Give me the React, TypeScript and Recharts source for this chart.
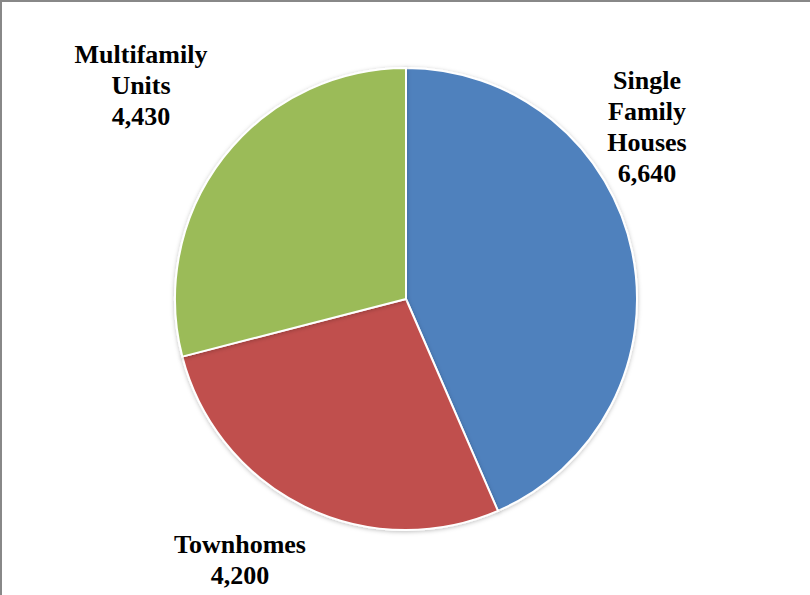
import { PieChart, Pie, Cell } from 'recharts';

const CATEGORIES = ['Single Family Houses', 'Townhomes', 'Multifamily Units'];
const VALUES = [6640, 4200, 4430];
const LABEL_LINES = [['Single', 'Family', 'Houses'], ['Townhomes'], ['Multifamily', 'Units']];
const COLORS = ['#4F81BD', '#C0504D', '#9BBB59'];

// Label anchor (centre x, first baseline y) in chart coords, as Excel's "best fit" placed them
const LABEL_POS = [
    { x: 647, y: 89 },
    { x: 240, y: 553 },
    { x: 141, y: 63 },
];
const LINE_H = 31;

const data = CATEGORIES.map((name, i) => ({ name, value: VALUES[i] }));
const fmt = (n: number) => n.toLocaleString('en-US');

function renderLabel(props: any) {
    const i = props.index as number;
    const pos = LABEL_POS[i];
    const lines = [...LABEL_LINES[i], fmt(VALUES[i])];
    return (
        <text x={pos.x} y={pos.y} textAnchor="middle" fill="#000" fontFamily="'Liberation Serif', 'Times New Roman', serif" fontWeight="bold" fontSize={26}>
            {lines.map((l, k) => (
                <tspan key={k} x={pos.x} dy={k === 0 ? 0 : LINE_H}>{l}</tspan>
            ))}
        </text>
    );
}

export default function App() {
    return (
        <div style={{ position: 'absolute', left: 0, top: 0, width: 810, height: 595, background: '#fff', boxSizing: 'border-box', borderTop: '2px solid #888', borderLeft: '2px solid #888' }}>
            <div style={{ position: 'absolute', left: -2, top: -2 }}>
                <PieChart width={810} height={595} margin={{ top: 0, right: 0, bottom: 0, left: 0 }}>
                    <defs>
                        <filter id="pieShadow" x="-10%" y="-10%" width="120%" height="120%">
                            <feDropShadow dx="0" dy="1" stdDeviation="2" floodColor="#000" floodOpacity={0.25} />
                        </filter>
                    </defs>
                    <Pie data={data} dataKey="value" nameKey="name" cx={406} cy={299} outerRadius={231}
                        startAngle={90} endAngle={-270} stroke="#fff" strokeWidth={2}
                        label={renderLabel} labelLine={false} isAnimationActive={false}
                        style={{ filter: 'url(#pieShadow)' }}>
                        {data.map((d, i) => <Cell key={d.name} fill={COLORS[i]} />)}
                    </Pie>
                </PieChart>
            </div>
        </div>
    );
}
